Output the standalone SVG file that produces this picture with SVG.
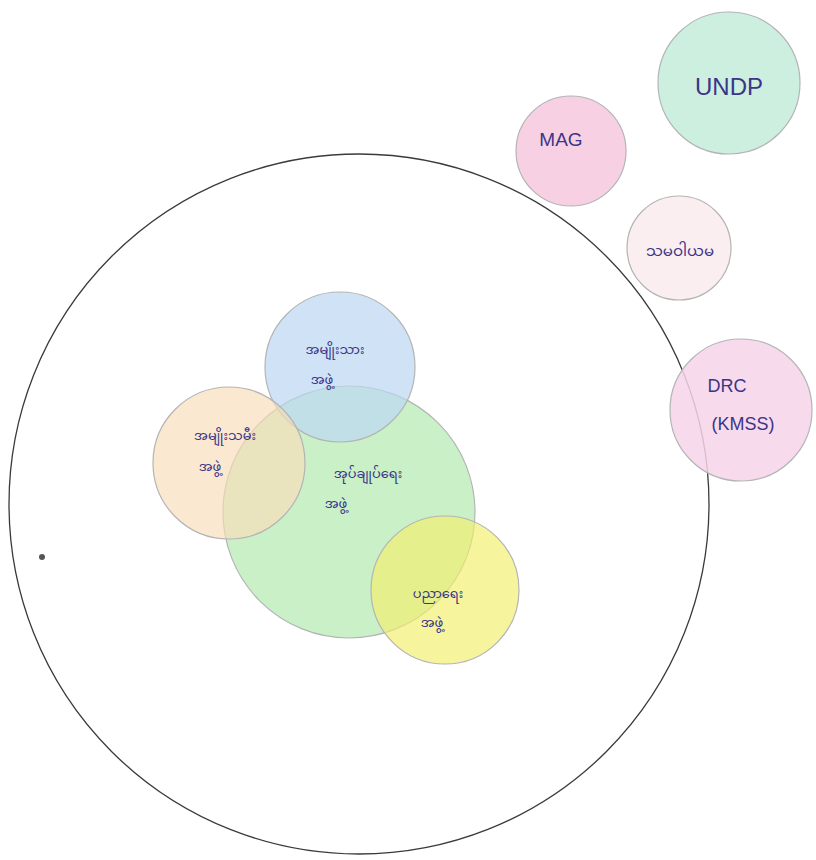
<svg xmlns="http://www.w3.org/2000/svg" width="816" height="860" viewBox="0 0 816 860">
<style>
.c{stroke:#b4b4b4;stroke-width:1.2}
.t{font-family:"Noto Sans Myanmar","Padauk","Myanmar Text","Noto Sans","DejaVu Sans",sans-serif;fill:#3b3588;text-anchor:middle;font-size:13px}
.l{font-family:"Liberation Sans","DejaVu Sans",sans-serif;fill:#3b3588;text-anchor:middle}
</style>
<rect width="816" height="860" fill="#ffffff"/>
<g id="community">
<circle cx="359" cy="504" r="350" fill="none" stroke="#3a3a3a" stroke-width="1.3"/>
<circle cx="42" cy="557" r="3" fill="#555"/>
</g>
<g id="admin">
<circle class="c" cx="349" cy="512" r="126" fill="#b3eab0" fill-opacity="0.7"/>
<text class="t" x="368" y="478">အုပ်ချုပ်ရေး</text>
<text class="t" x="336" y="508">အဖွဲ့</text>
</g>
<g id="men">
<circle class="c" cx="340" cy="367" r="75" fill="#bcd7f2" fill-opacity="0.7"/>
<text class="t" x="335" y="354">အမျိုးသား</text>
<text class="t" x="322" y="384">အဖွဲ့</text>
</g>
<g id="women">
<circle class="c" cx="229" cy="463" r="76" fill="#f9dcb8" fill-opacity="0.65"/>
<text class="t" x="225" y="440">အမျိုးသမီး</text>
<text class="t" x="210" y="471">အဖွဲ့</text>
</g>
<g id="education">
<circle class="c" cx="445" cy="590" r="74" fill="#f3ee6a" fill-opacity="0.65"/>
<text class="t" x="438" y="598">ပညာရေး</text>
<text class="t" x="432" y="627">အဖွဲ့</text>
</g>
<g id="mag">
<circle class="c" cx="571" cy="151" r="55" fill="#f5c6dc" fill-opacity="0.8"/>
<text class="l" x="561" y="146" font-size="19">MAG</text>
</g>
<g id="undp">
<circle class="c" cx="729" cy="83" r="71" fill="#c4ecda" fill-opacity="0.85"/>
<text class="l" x="729" y="95" font-size="24">UNDP</text>
</g>
<g id="coop">
<circle class="c" cx="679" cy="248" r="52" fill="#fbeef0"/>
<text class="t" x="680" y="256" style="font-size:15px">သမဝါယမ</text>
</g>
<g id="drc">
<circle class="c" cx="741" cy="410" r="71" fill="#f6d4e9" fill-opacity="0.85"/>
<text class="l" x="727" y="392" font-size="18">DRC</text>
<text class="l" x="743" y="430" font-size="18">(KMSS)</text>
</g>
<g id="connectors"></g>
</svg>
